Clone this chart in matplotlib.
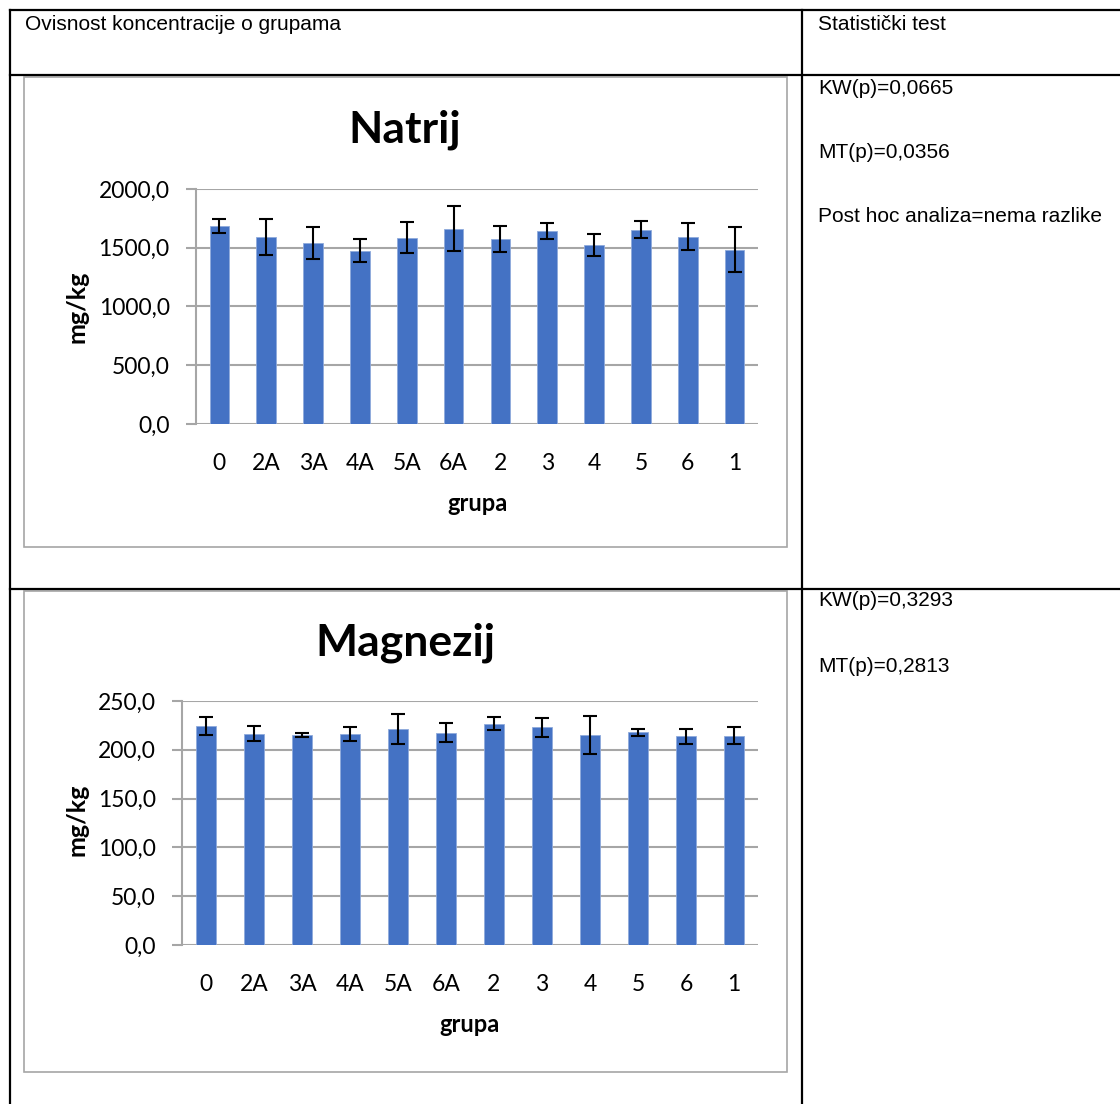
import numpy as np
import matplotlib
matplotlib.use("Agg")
import matplotlib.pyplot as plt
from matplotlib.lines import Line2D
from matplotlib.patches import Rectangle
from matplotlib.ticker import FuncFormatter

grupe = ["0", "2A", "3A", "4A", "5A", "6A", "2", "3", "4", "5", "6", "1"]

natrij = [1688, 1592, 1541, 1473, 1584, 1663, 1575, 1643, 1527, 1655, 1595, 1484]
natrij_err = [60, 150, 137, 98, 132, 192, 107, 68, 93, 69, 112, 191]

magnezij = [223.9, 216.4, 215.1, 216.4, 221.5, 217.4, 226.9, 222.9, 214.7, 217.8, 214.0, 214.4]
magnezij_err = [9.2, 7.8, 1.8, 7.0, 15.3, 9.7, 6.4, 10.0, 19.5, 3.7, 7.6, 8.7]

natrij_testovi = ["KW(p)=0,0665", "MT(p)=0,0356", "Post hoc analiza=nema razlike"]
magnezij_testovi = ["KW(p)=0,3293", "MT(p)=0,2813"]

W, H = 1120, 1104
fig = plt.figure(figsize=(W / 100, H / 100), dpi=100)

def fx(px):
    return px / W

def fy(py):
    return 1 - py / H

# tablica
def hline(y, x0, x1):
    fig.add_artist(Line2D([fx(x0), fx(x1)], [fy(y), fy(y)], color="black", lw=1.6))

def vline(x, y0, y1):
    fig.add_artist(Line2D([fx(x), fx(x)], [fy(y0), fy(y1)], color="black", lw=1.6))

hline(10, 10, W)
hline(75, 10, W)
hline(589, 10, W)
vline(10, 10, H)
vline(802, 10, H)

tfont = dict(family="Liberation Sans", fontsize=15, va="center", ha="left")
fig.text(fx(25), fy(25), "Ovisnost koncentracije o grupama", **tfont)
fig.text(fx(818), fy(25), "Statistički test", **tfont)
for i, t in enumerate(natrij_testovi):
    fig.text(fx(818), fy(89 + 64 * i), t, **tfont)
for i, t in enumerate(magnezij_testovi):
    fig.text(fx(818), fy(601 + 65 * i), t, **tfont)

# okviri grafova
for (x0, y0, x1, y1) in [(24, 77, 787, 547), (24, 591, 787, 1072)]:
    fig.add_artist(Rectangle((fx(x0), fy(y1)), fx(x1) - fx(x0), fy(y0) - fy(y1),
                             fill=False, edgecolor="#a6a6a6", lw=1.2))

fmt = FuncFormatter(lambda v, p: f"{v:.1f}".replace(".", ","))
x = np.arange(len(grupe))

def graf(rect, vals, errs, ymax, step, naslov, title_y, ylab_y):
    ax = fig.add_axes(rect)
    ax.bar(x, vals, width=0.42, color="#4472C4", edgecolor="#8faadc", lw=0.6, zorder=3)
    ax.errorbar(x, vals, yerr=errs, fmt="none", ecolor="black", elinewidth=1.5,
                capsize=5, capthick=1.5, zorder=4)
    ax.set_xlim(-0.5, len(grupe) - 0.5)
    ax.set_ylim(0, ymax)
    ax.set_yticks(np.arange(0, ymax + step / 2, step))
    ax.yaxis.set_major_formatter(fmt)
    ax.set_xticks(x)
    ax.set_xticklabels(grupe)
    ax.grid(axis="y", color="#a6a6a6", lw=1.5, zorder=0)
    for s in ["top", "right", "bottom"]:
        ax.spines[s].set_visible(False)
    ax.spines["left"].set_color("#a6a6a6")
    ax.spines["left"].set_linewidth(1.5)
    ax.tick_params(axis="y", length=7, width=1.5, color="#a6a6a6", pad=12,
                   labelsize=16.5, labelfontfamily="Lato")
    ax.tick_params(axis="x", length=0, pad=21, labelsize=16.5, labelfontfamily="Lato")
    ax.set_xlabel("grupa", fontsize=17, fontweight="bold", family="Lato", labelpad=13)
    fig.text(fx(405), fy(title_y), naslov, fontsize=32, fontweight="bold", family="Lato",
             ha="center", va="center")
    fig.text(fx(77), fy(ylab_y), "mg/kg", fontsize=18, fontweight="bold", family="Lato",
             rotation=90, ha="center", va="center")
    return ax

graf([fx(196), fy(424), fx(758) - fx(196), fy(189) - fy(424)],
     natrij, natrij_err, 2000, 500, "Natrij", 130, 307)
graf([fx(182), fy(945), fx(758) - fx(182), fy(701) - fy(945)],
     magnezij, magnezij_err, 250, 50, "Magnezij", 643, 820)

fig.savefig("out.png", dpi=100)
